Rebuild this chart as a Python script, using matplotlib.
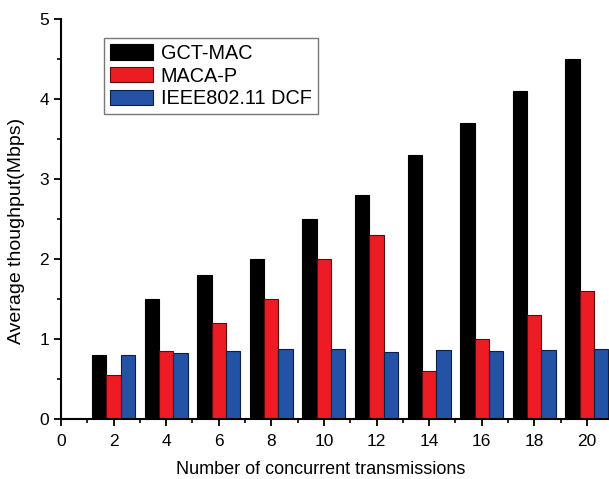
import matplotlib
matplotlib.use("Agg")
import matplotlib.pyplot as plt
import numpy as np
from matplotlib.ticker import MultipleLocator

plt.rcParams['font.family'] = ['Liberation Sans', 'DejaVu Sans']

transmissions = [2, 4, 6, 8, 10, 12, 14, 16, 18, 20]
gct_mac = [0.8, 1.5, 1.8, 2.0, 2.5, 2.8, 3.3, 3.7, 4.1, 4.5]
maca_p = [0.55, 0.85, 1.2, 1.5, 2.0, 2.3, 0.6, 1.0, 1.3, 1.6]
dcf = [0.8, 0.82, 0.85, 0.87, 0.88, 0.84, 0.86, 0.85, 0.86, 0.87]

x = np.array(transmissions)
w = 0.545

fig = plt.figure(figsize=(6.09, 4.79), dpi=100)
ax = fig.add_axes([0.1, 0.1253, 0.9, 0.835])

ax.bar(x - w, gct_mac, w, color='black', edgecolor='black', linewidth=0.8, label='GCT-MAC')
ax.bar(x, maca_p, w, color='#ED1C24', edgecolor='#5a0a0a', linewidth=0.8, label='MACA-P')
ax.bar(x + w, dcf, w, color='#2452A4', edgecolor='#0d1f40', linewidth=0.8, label='IEEE802.11 DCF')

ax.set_xlim(0, 20.84)
ax.set_ylim(0, 5)
ax.xaxis.set_major_locator(MultipleLocator(2))
ax.xaxis.set_minor_locator(MultipleLocator(1))
ax.yaxis.set_major_locator(MultipleLocator(1))
ax.yaxis.set_minor_locator(MultipleLocator(0.5))

ax.spines['top'].set_visible(False)
ax.spines['right'].set_visible(False)
ax.spines['left'].set_linewidth(1.5)
ax.spines['bottom'].set_linewidth(1.5)
ax.tick_params(which='major', direction='out', length=5, width=1.3, labelsize=12.5)
ax.tick_params(axis='x', which='major', pad=6)
ax.tick_params(which='minor', direction='out', length=3, width=1.2)

ax.set_xlabel('Number of concurrent transmissions', fontsize=13)
ax.set_ylabel('Average thoughput(Mbps)', fontsize=14)
ax.xaxis.set_label_coords(0.474, -0.104)
ax.yaxis.set_label_coords(-0.066, 0.47)

leg = ax.legend(loc='upper left', bbox_to_anchor=(0.0785, 0.9525), fontsize=14.3,
                frameon=True, fancybox=False, edgecolor='#555555',
                handlelength=2.16, handleheight=0.8, handletextpad=0.4,
                borderpad=0.3, labelspacing=0.18, borderaxespad=0)
leg.get_frame().set_linewidth(1.0)

fig.savefig('out.png', dpi=100)
